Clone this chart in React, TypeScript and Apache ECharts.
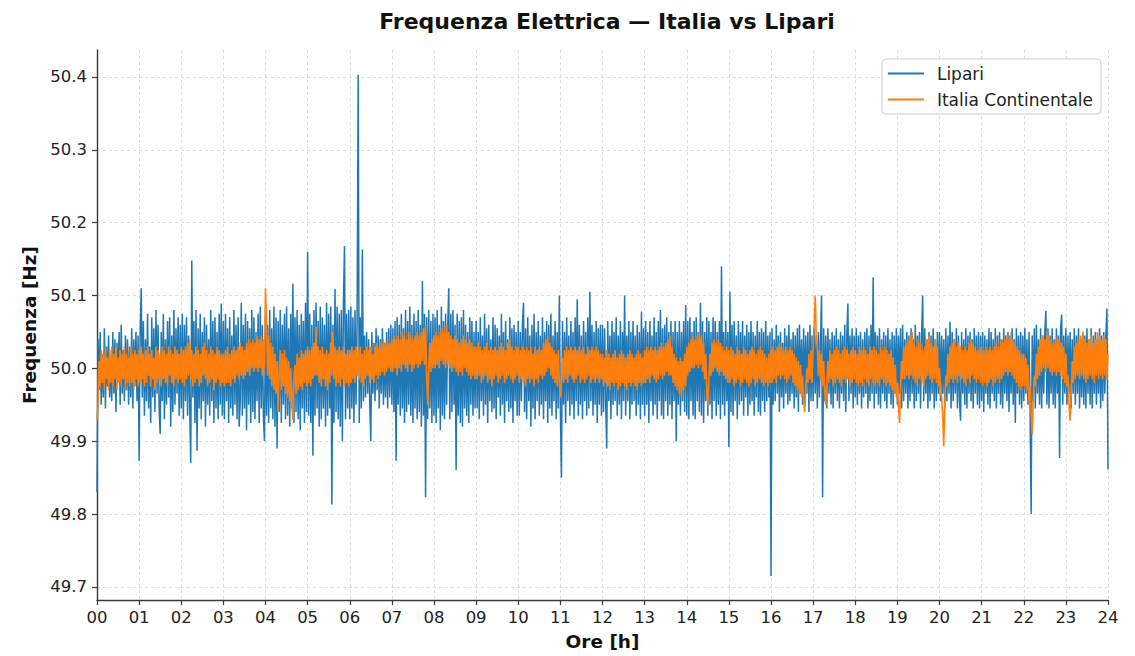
import React, { useEffect, useRef } from "react";
import * as echarts from "echarts";

// Grid-frequency samples over one day: 40 per hour (every 90 s) plus the 24:00 sample.
const DAY_HOURS = 24;

const hourLabels: string[] = Array.from({ length: 25 }, (_, h) => String(h).padStart(2, "0"));
const frequencyTicks: number[] = [49.7, 49.8, 49.9, 50.0, 50.1, 50.2, 50.3, 50.4];

// Lipari island grid [Hz], one row per hour
const lipari: number[] = [
  /* 00 */ 49.83, 50.04, 49.97, 50.05, 49.95, 50.02, 49.96, 50.055, 49.945, 50.03, 49.975, 50.045, 49.96, 50.01, 49.955, 50.05, 49.965, 50.04, 49.94, 50.035, 49.98, 50.05, 49.95, 50.06, 49.965, 50.025, 49.955, 50.045, 49.97, 50.04, 49.95, 50.03, 49.96, 50.055, 49.945, 50.04, 49.975, 50.05, 49.955, 50.045,
  /* 01 */ 49.873, 50.05, 50.11, 49.96, 50.065, 49.935, 50.04, 49.955, 50.075, 49.945, 50.03, 49.925, 50.07, 49.96, 50.055, 49.94, 50.08, 49.965, 50.06, 49.945, 49.91, 50.05, 49.955, 50.075, 49.93, 50.04, 49.95, 50.065, 49.96, 50.07, 49.92, 50.045, 49.94, 50.08, 49.95, 50.055, 49.965, 50.07, 49.935, 50.06,
  /* 02 */ 49.945, 50.075, 49.93, 50.06, 49.955, 50.07, 49.935, 50.045, 49.95, 49.87, 50.148, 49.96, 50.065, 49.925, 50.08, 49.887, 50.055, 49.945, 50.075, 49.93, 50.05, 49.955, 50.07, 49.92, 50.06, 49.95, 50.04, 49.935, 50.08, 49.955, 50.065, 49.925, 50.07, 49.945, 50.05, 49.93, 50.075, 49.95, 50.089, 49.935,
  /* 03 */ 50.065, 49.93, 50.075, 49.955, 50.055, 49.925, 50.07, 49.945, 50.045, 49.935, 50.08, 49.95, 50.06, 49.93, 50.07, 49.92, 49.955, 50.09, 49.935, 50.06, 49.945, 50.075, 49.915, 50.065, 49.95, 50.055, 49.925, 50.08, 49.94, 50.07, 49.93, 50.05, 49.955, 50.075, 49.925, 50.085, 49.945, 50.06, 49.935, 49.9,
  /* 04 */ 50.075, 49.935, 50.06, 49.925, 50.08, 49.945, 50.055, 49.93, 50.085, 49.92, 50.07, 49.89, 50.065, 49.94, 50.08, 49.925, 50.06, 49.95, 50.075, 49.93, 50.085, 49.935, 50.055, 49.92, 50.075, 49.945, 50.116, 49.925, 50.07, 49.94, 50.08, 49.93, 50.06, 49.915, 50.075, 49.945, 50.065, 49.925, 50.09, 49.94,
  /* 05 */ 50.16, 49.935, 50.075, 49.925, 50.06, 49.88, 50.08, 49.935, 50.09, 49.945, 50.065, 49.92, 50.085, 49.93, 50.07, 49.945, 50.06, 49.92, 50.09, 49.935, 50.075, 49.945, 50.085, 49.813, 50.06, 49.925, 50.109, 49.94, 50.085, 49.93, 50.075, 49.92, 50.08, 49.9, 50.09, 50.168, 49.93, 50.075, 49.945, 50.08,
  /* 06 */ 49.93, 50.085, 49.945, 50.07, 49.925, 50.08, 49.95, 50.065, 50.403, 49.925, 50.07, 49.945, 50.163, 49.955, 50.045, 49.96, 50.05, 49.965, 50.04, 49.95, 49.9, 50.05, 49.965, 50.035, 49.955, 50.055, 49.97, 50.045, 49.945, 50.04, 49.965, 50.055, 49.95, 50.035, 49.96, 50.05, 49.945, 50.055, 49.96, 50.06,
  /* 07 */ 49.95, 50.055, 49.94, 50.065, 49.873, 50.07, 49.95, 50.06, 49.935, 50.075, 49.945, 50.055, 49.925, 50.08, 49.94, 50.065, 49.95, 50.085, 49.935, 50.06, 49.925, 50.075, 49.945, 50.065, 49.93, 50.08, 49.94, 50.06, 49.92, 50.12, 49.935, 50.075, 49.823, 50.07, 49.93, 50.08, 49.945, 50.065, 49.925, 50.075,
  /* 08 */ 49.935, 50.07, 49.925, 50.08, 49.945, 50.06, 49.915, 50.085, 49.935, 50.065, 49.93, 50.075, 49.95, 50.055, 50.11, 49.93, 50.075, 49.94, 50.08, 49.95, 50.06, 49.86, 50.075, 49.935, 50.065, 49.925, 50.07, 49.92, 50.08, 49.945, 50.06, 49.935, 50.05, 49.925, 50.07, 49.95, 50.065, 49.935, 50.05, 49.945,
  /* 09 */ 50.065, 49.945, 50.05, 49.93, 50.07, 49.955, 50.045, 49.935, 50.075, 49.95, 50.055, 49.925, 50.06, 49.955, 50.04, 49.94, 50.07, 49.945, 50.06, 49.93, 50.055, 49.96, 50.045, 49.935, 50.075, 49.95, 50.05, 49.925, 50.065, 49.955, 50.04, 49.94, 50.07, 49.945, 50.055, 49.925, 50.06, 49.955, 50.05, 49.935,
  /* 10 */ 50.065, 49.935, 50.05, 49.955, 50.06, 50.09, 49.94, 50.055, 49.93, 50.07, 49.955, 50.045, 49.92, 50.06, 49.945, 50.075, 49.93, 50.05, 49.955, 50.065, 49.935, 50.045, 49.95, 50.07, 49.93, 50.05, 49.955, 50.065, 49.925, 50.06, 49.945, 50.075, 49.935, 50.045, 49.955, 50.065, 49.93, 50.05, 49.945, 50.1,
  /* 11 */ 49.94, 49.85, 50.065, 49.95, 50.05, 49.925, 50.07, 49.955, 50.045, 49.935, 50.065, 49.95, 50.05, 49.93, 50.07, 49.955, 50.095, 49.935, 50.06, 49.95, 50.045, 49.93, 50.065, 49.955, 50.05, 49.935, 50.07, 49.945, 50.105, 49.955, 50.06, 49.935, 50.05, 49.95, 50.065, 49.925, 50.055, 49.95, 50.06, 49.935,
  /* 12 */ 50.06, 49.94, 50.055, 49.955, 49.89, 50.065, 49.955, 50.045, 49.93, 50.065, 49.95, 50.05, 49.955, 50.07, 49.935, 50.045, 49.95, 50.065, 49.93, 50.05, 49.955, 50.1, 49.935, 50.045, 49.955, 50.065, 49.93, 50.05, 49.95, 50.065, 49.955, 50.045, 49.935, 50.06, 49.95, 50.05, 49.93, 50.078, 49.95, 50.055,
  /* 13 */ 49.935, 50.065, 49.95, 50.05, 49.925, 50.065, 49.955, 50.045, 49.935, 50.07, 49.95, 50.05, 49.93, 50.065, 49.955, 50.08, 49.935, 50.055, 49.93, 50.06, 49.955, 50.07, 49.935, 50.05, 49.95, 50.065, 49.93, 50.05, 49.955, 50.065, 49.9, 50.05, 49.95, 50.065, 49.935, 50.05, 49.955, 50.065, 49.94, 50.087,
  /* 14 */ 49.935, 50.065, 49.93, 50.07, 49.955, 50.05, 49.935, 50.065, 49.93, 50.07, 49.955, 50.05, 49.94, 50.09, 49.935, 50.065, 49.925, 50.05, 49.955, 50.07, 49.935, 50.065, 49.95, 50.05, 49.93, 50.07, 49.955, 50.065, 49.935, 50.05, 49.95, 50.065, 49.93, 50.14, 49.95, 50.05, 49.935, 50.065, 49.955, 50.05,
  /* 15 */ 49.892, 50.105, 49.94, 50.06, 49.935, 50.065, 49.955, 50.045, 49.93, 50.065, 49.95, 50.05, 49.955, 50.065, 49.935, 50.045, 49.96, 50.06, 49.935, 50.05, 49.95, 50.065, 49.955, 50.05, 49.935, 50.045, 49.96, 50.065, 49.94, 50.05, 49.935, 50.055, 49.955, 50.05, 49.94, 50.065, 49.955, 50.045, 49.96, 50.05,
  /* 16 */ 49.715, 50.055, 49.95, 50.04, 49.955, 50.06, 49.965, 50.045, 49.94, 50.05, 49.96, 50.035, 49.945, 50.055, 49.965, 50.045, 49.95, 50.06, 49.955, 50.04, 49.965, 50.05, 49.945, 50.045, 49.96, 50.055, 49.94, 50.06, 49.965, 50.04, 49.95, 50.055, 49.955, 50.045, 49.965, 50.05, 49.94, 50.06, 49.955, 50.045,
  /* 17 */ 49.955, 50.055, 49.965, 50.045, 49.945, 50.05, 49.96, 50.04, 50.1, 49.823, 50.055, 49.955, 50.045, 49.945, 50.055, 49.965, 50.04, 49.95, 50.05, 49.945, 50.045, 49.965, 50.055, 49.955, 50.04, 49.945, 50.05, 49.965, 50.045, 49.955, 50.06, 49.94, 50.045, 50.089, 49.955, 50.045, 49.965, 50.055, 49.945, 50.045,
  /* 18 */ 49.96, 50.055, 49.95, 50.045, 49.965, 50.05, 49.945, 50.04, 49.96, 50.05, 49.965, 50.055, 49.945, 50.045, 49.955, 50.06, 49.965, 50.125, 49.945, 50.05, 49.965, 50.045, 49.95, 50.055, 49.945, 50.04, 49.965, 50.05, 49.955, 50.045, 49.945, 50.055, 49.965, 50.04, 49.95, 50.05, 49.945, 50.045, 49.965, 50.055,
  /* 19 */ 49.95, 50.045, 49.965, 50.055, 49.945, 50.06, 49.955, 50.04, 49.965, 50.05, 49.945, 50.045, 49.955, 50.055, 49.965, 50.04, 49.945, 50.06, 49.955, 50.045, 49.965, 50.05, 49.945, 50.045, 50.1, 49.955, 50.055, 49.965, 50.04, 49.945, 50.05, 49.955, 50.045, 49.965, 50.055, 49.945, 50.04, 49.955, 50.05, 49.965,
  /* 20 */ 50.05, 49.955, 50.045, 49.965, 50.04, 49.945, 50.055, 49.955, 50.045, 49.965, 50.064, 49.945, 50.05, 49.955, 50.04, 49.965, 50.055, 49.945, 50.045, 49.955, 49.928, 50.05, 49.965, 50.04, 49.95, 50.055, 49.945, 50.045, 49.965, 50.05, 49.955, 50.04, 49.945, 50.055, 49.965, 50.045, 49.95, 50.05, 49.945, 50.045,
  /* 21 */ 49.955, 50.05, 49.94, 50.045, 49.965, 50.04, 49.95, 50.055, 49.945, 50.05, 49.965, 50.04, 49.955, 50.055, 49.945, 50.045, 49.965, 50.05, 49.95, 50.04, 49.945, 50.055, 49.965, 50.045, 49.955, 50.05, 49.94, 50.045, 49.965, 50.055, 49.95, 50.04, 49.925, 50.055, 49.965, 50.045, 49.95, 50.05, 49.945, 50.045,
  /* 22 */ 49.955, 50.055, 49.965, 50.04, 49.95, 50.05, 49.945, 49.8, 50.045, 49.955, 50.055, 49.945, 50.06, 49.965, 50.04, 49.95, 50.055, 49.945, 50.045, 49.965, 50.05, 50.079, 49.95, 50.055, 49.945, 50.045, 49.965, 50.055, 49.95, 50.04, 49.945, 50.055, 49.965, 50.045, 49.877, 50.055, 50.074, 49.95, 50.045, 49.965,
  /* 23 */ 50.055, 49.95, 50.045, 49.965, 50.05, 49.945, 50.04, 49.965, 50.055, 49.95, 50.045, 49.965, 50.055, 49.945, 50.04, 49.96, 50.05, 49.95, 50.045, 49.945, 50.055, 49.965, 50.04, 49.95, 50.055, 49.945, 50.045, 49.965, 50.05, 49.95, 50.04, 49.965, 50.055, 49.945, 50.045, 49.955, 50.05, 49.965, 50.045, 50.082,
  /* 24 */ 49.861,
];

// Continental Italy grid [Hz], one row per hour
const italia: number[] = [
  /* 00 */ 49.93, 49.95, 50.01, 49.975, 50.025, 49.98, 50.02, 49.97, 50.03, 49.985, 50.015, 49.97, 50.025, 49.98, 50.03, 49.975, 50.02, 49.985, 50.03, 49.97, 50.015, 49.98, 50.025, 49.975, 50.02, 49.985, 50.03, 49.97, 50.02, 49.98, 50.015, 49.975, 50.03, 49.98, 50.02, 49.97, 50.025, 49.985, 50.02, 49.975,
  /* 01 */ 50.025, 49.98, 50.03, 49.985, 50.02, 49.975, 50.025, 49.98, 50.03, 49.99, 50.02, 49.975, 50.025, 49.985, 50.015, 49.97, 50.03, 49.98, 50.025, 49.985, 50.02, 49.975, 50.03, 49.985, 50.025, 49.98, 50.02, 49.975, 50.03, 49.99, 50.025, 49.98, 50.02, 49.975, 50.03, 49.985, 50.025, 49.98, 50.02, 49.985,
  /* 02 */ 50.03, 49.98, 50.025, 49.975, 50.03, 49.985, 50.035, 49.99, 50.04, 49.985, 50.025, 49.975, 50.02, 49.98, 50.03, 49.985, 50.025, 49.975, 50.02, 49.98, 50.03, 49.99, 50.035, 49.985, 50.025, 49.975, 50.02, 49.98, 50.03, 49.985, 50.025, 49.97, 50.02, 49.98, 50.03, 49.985, 50.025, 49.975, 50.02, 49.98,
  /* 03 */ 50.02, 49.975, 50.025, 49.98, 50.03, 49.98, 50.02, 49.975, 50.025, 49.985, 50.03, 49.98, 50.025, 49.99, 50.03, 49.985, 50.035, 49.99, 50.03, 49.985, 50.025, 49.99, 50.035, 49.995, 50.04, 49.99, 50.035, 50.0, 50.04, 49.995, 50.035, 50.0, 50.045, 49.995, 50.04, 50.0, 50.045, 49.99, 50.04, 50.0,
  /* 04 */ 50.11, 50.06, 49.99, 50.045, 49.985, 50.035, 49.975, 50.03, 49.97, 50.02, 49.965, 50.01, 49.94, 49.995, 50.025, 49.97, 50.02, 49.975, 50.025, 49.965, 50.015, 49.96, 50.01, 49.955, 50.0, 49.95, 49.93, 49.985, 50.005, 49.965, 50.02, 49.97, 50.015, 49.975, 50.025, 49.97, 50.02, 49.98, 50.025, 49.975,
  /* 05 */ 50.03, 49.98, 50.025, 49.975, 50.03, 49.985, 50.035, 49.99, 50.057, 49.99, 50.03, 49.98, 50.025, 49.975, 50.03, 49.985, 50.02, 49.975, 50.025, 49.97, 50.02, 49.98, 50.035, 49.99, 50.05, 49.985, 50.03, 49.975, 50.025, 49.98, 50.03, 49.975, 50.025, 49.985, 50.03, 49.975, 50.02, 49.98, 50.025, 49.975,
  /* 06 */ 50.025, 49.98, 50.03, 49.985, 50.025, 49.98, 50.03, 49.99, 50.025, 49.985, 50.03, 49.98, 50.02, 49.975, 50.025, 49.985, 50.03, 49.99, 50.025, 49.98, 50.03, 49.985, 50.02, 49.98, 50.03, 49.99, 50.035, 49.985, 50.03, 49.99, 50.035, 49.995, 50.04, 49.99, 50.035, 49.995, 50.04, 50.0, 50.035, 49.995,
  /* 07 */ 50.04, 49.995, 50.045, 50.0, 50.04, 49.99, 50.045, 50.0, 50.04, 49.995, 50.05, 50.005, 50.045, 50.0, 50.04, 49.995, 50.05, 50.005, 50.045, 49.995, 50.04, 50.0, 50.045, 50.005, 50.05, 50.0, 50.045, 50.005, 50.05, 50.01, 50.055, 50.005, 50.06, 49.99, 49.95, 50.0, 50.035, 49.995, 50.04, 50.0,
  /* 08 */ 50.045, 50.0, 50.05, 50.005, 50.045, 50.0, 50.05, 50.01, 50.055, 50.005, 50.05, 50.0, 50.06, 50.005, 50.05, 50.0, 50.045, 49.995, 50.04, 50.0, 50.045, 49.995, 50.04, 49.99, 50.035, 49.995, 50.04, 49.99, 50.045, 50.0, 50.04, 49.995, 50.035, 49.99, 50.04, 49.985, 50.035, 49.99, 50.03, 49.985,
  /* 09 */ 50.03, 49.985, 50.035, 49.99, 50.03, 49.98, 50.025, 49.985, 50.03, 49.99, 50.035, 49.98, 50.025, 49.985, 50.03, 49.975, 50.025, 49.985, 50.03, 49.99, 50.025, 49.98, 50.03, 49.985, 50.035, 49.99, 50.03, 49.98, 50.025, 49.985, 50.035, 49.99, 50.04, 49.985, 50.03, 49.98, 50.025, 49.985, 50.03, 49.99,
  /* 10 */ 50.03, 49.98, 50.025, 49.985, 50.03, 49.98, 50.025, 49.975, 50.03, 49.985, 50.025, 49.98, 50.03, 49.985, 50.02, 49.975, 50.03, 49.985, 50.025, 49.98, 50.03, 49.99, 50.025, 49.985, 50.035, 49.99, 50.04, 49.995, 50.045, 50.0, 50.035, 49.99, 50.03, 49.985, 50.025, 49.98, 50.02, 49.975, 50.025, 49.98,
  /* 11 */ 49.96, 49.985, 50.015, 49.98, 50.025, 49.985, 50.03, 49.98, 50.025, 49.99, 50.03, 49.985, 50.025, 49.98, 50.03, 49.985, 50.025, 49.99, 50.03, 49.98, 50.025, 49.985, 50.03, 49.98, 50.02, 49.985, 50.03, 49.99, 50.025, 49.98, 50.03, 49.985, 50.025, 49.98, 50.03, 49.985, 50.025, 49.98, 50.02, 49.985,
  /* 12 */ 50.02, 49.975, 50.015, 49.98, 50.025, 49.975, 50.02, 49.97, 50.015, 49.98, 50.02, 49.975, 50.025, 49.98, 50.015, 49.97, 50.02, 49.975, 50.025, 49.98, 50.02, 49.975, 50.015, 49.97, 50.02, 49.98, 50.025, 49.975, 50.02, 49.98, 50.015, 49.975, 50.02, 49.97, 50.025, 49.98, 50.02, 49.975, 50.015, 49.98,
  /* 13 */ 50.025, 49.98, 50.03, 49.985, 50.025, 49.98, 50.03, 49.99, 50.025, 49.985, 50.03, 49.98, 50.025, 49.985, 50.03, 49.99, 50.035, 49.985, 50.03, 49.99, 50.035, 49.995, 50.04, 49.99, 50.045, 49.99, 50.03, 49.98, 50.02, 49.975, 50.015, 49.97, 50.01, 49.965, 50.015, 49.96, 50.01, 49.97, 50.02, 49.975,
  /* 14 */ 50.03, 49.99, 50.035, 49.995, 50.04, 50.0, 50.045, 50.0, 50.04, 50.005, 50.045, 50.0, 50.05, 50.005, 50.045, 49.995, 50.035, 49.985, 50.02, 49.97, 49.95, 49.985, 50.02, 49.99, 50.035, 49.995, 50.04, 50.0, 50.035, 49.995, 50.04, 49.99, 50.035, 49.995, 50.03, 49.99, 50.025, 49.985, 50.03, 49.98,
  /* 15 */ 50.025, 49.98, 50.03, 49.985, 50.025, 49.975, 50.02, 49.98, 50.03, 49.985, 50.025, 49.975, 50.02, 49.98, 50.03, 49.985, 50.025, 49.98, 50.02, 49.975, 50.025, 49.98, 50.03, 49.985, 50.025, 49.975, 50.02, 49.98, 50.025, 49.985, 50.03, 49.98, 50.025, 49.975, 50.02, 49.98, 50.015, 49.975, 50.02, 49.98,
  /* 16 */ 50.025, 49.98, 50.03, 49.985, 50.025, 49.98, 50.03, 49.99, 50.035, 49.985, 50.03, 49.99, 50.025, 49.985, 50.03, 49.98, 50.025, 49.985, 50.03, 49.99, 50.025, 49.98, 50.02, 49.975, 50.015, 49.97, 50.01, 49.965, 50.005, 49.96, 49.99, 49.955, 49.94, 49.97, 50.0, 49.98, 50.02, 49.985, 50.025, 49.98,
  /* 17 */ 50.03, 50.06, 50.1, 50.04, 50.03, 49.99, 50.025, 49.985, 50.02, 49.975, 50.01, 49.965, 49.95, 49.98, 50.01, 49.98, 50.025, 49.985, 50.02, 49.975, 50.025, 49.98, 50.03, 49.985, 50.025, 49.98, 50.02, 49.975, 50.025, 49.985, 50.03, 49.98, 50.025, 49.985, 50.02, 49.975, 50.025, 49.98, 50.03, 49.985,
  /* 18 */ 50.025, 49.98, 50.02, 49.975, 50.03, 49.98, 50.025, 49.975, 50.03, 49.985, 50.025, 49.98, 50.02, 49.975, 50.03, 49.985, 50.025, 49.98, 50.03, 49.975, 50.025, 49.98, 50.02, 49.975, 50.03, 49.985, 50.025, 49.98, 50.03, 49.975, 50.025, 49.98, 50.02, 49.975, 50.025, 49.97, 50.015, 49.965, 50.005, 49.96,
  /* 19 */ 49.98, 49.95, 49.925, 49.975, 50.01, 49.985, 50.03, 49.985, 50.035, 49.99, 50.04, 49.985, 50.045, 49.99, 50.05, 49.985, 50.035, 49.98, 50.03, 49.975, 50.04, 49.985, 50.035, 49.98, 50.025, 49.975, 50.03, 49.985, 50.04, 49.99, 50.045, 49.985, 50.035, 49.98, 50.03, 49.985, 50.04, 49.98, 50.03, 49.975,
  /* 20 */ 50.0, 49.97, 49.96, 49.935, 49.893, 49.95, 49.99, 49.975, 50.02, 49.98, 50.03, 49.985, 50.035, 49.98, 50.04, 49.985, 50.03, 49.98, 50.035, 49.99, 50.03, 49.985, 50.025, 49.98, 50.03, 49.975, 50.025, 49.985, 50.035, 49.98, 50.04, 49.99, 50.035, 49.985, 50.03, 49.98, 50.025, 49.985, 50.03, 49.98,
  /* 21 */ 50.03, 49.975, 50.025, 49.98, 50.03, 49.975, 50.025, 49.98, 50.03, 49.985, 50.025, 49.975, 50.03, 49.98, 50.035, 49.985, 50.03, 49.98, 50.04, 49.985, 50.035, 49.99, 50.04, 49.995, 50.045, 49.99, 50.04, 49.995, 50.05, 49.99, 50.04, 49.985, 50.035, 49.98, 50.03, 49.975, 50.025, 49.97, 50.02, 49.975,
  /* 22 */ 50.02, 49.975, 50.015, 49.97, 50.005, 49.955, 49.975, 49.94, 49.909, 49.96, 49.99, 49.975, 50.02, 49.985, 50.03, 49.99, 50.04, 49.995, 50.045, 50.0, 50.04, 49.995, 50.05, 50.0, 50.045, 49.995, 50.04, 49.99, 50.035, 49.995, 50.04, 49.99, 50.045, 49.995, 50.04, 49.99, 50.035, 49.985, 50.03, 49.98,
  /* 23 */ 50.02, 49.975, 49.99, 49.95, 49.928, 49.965, 50.01, 49.98, 50.03, 49.985, 50.035, 49.99, 50.04, 49.985, 50.045, 49.99, 50.05, 49.985, 50.04, 49.98, 50.035, 49.985, 50.04, 49.99, 50.045, 49.985, 50.035, 49.98, 50.04, 49.99, 50.05, 49.985, 50.045, 49.99, 50.04, 49.985, 50.045, 49.99, 50.04, 49.985,
  /* 24 */ 50.02,
];

const FONT = "DejaVu Sans";
const TEXT = "#222222";
const AXIS = "#3a3a3a";
const BLUE = "#1f77b4";
const ORANGE = "#ff7f0e";

// Evenly spaced samples from 00:00 to 24:00
const toPoints = (values: number[]) =>
  values.map((v, i) => [(i * DAY_HOURS) / (values.length - 1), v]);

export default function App() {
  const ref = useRef<HTMLDivElement>(null);

  useEffect(() => {
    if (!ref.current) return;
    const chart = echarts.init(ref.current, null, { renderer: "svg" });
    chart.setOption({
      animation: false,
      backgroundColor: "#ffffff",
      textStyle: { fontFamily: FONT },
      title: {
        text: "Frequenza Elettrica \u2014 Italia vs Lipari",
        left: 602,
        top: 5,
        textAlign: "center",
        textStyle: { fontFamily: FONT, fontSize: 22, fontWeight: "bold", color: "#111" },
      },
      legend: {
        orient: "vertical",
        right: 34,
        top: 59,
        padding: [6, 8, 6, 6],
        itemGap: 9,
        itemWidth: 36,
        itemHeight: 2,
        icon: "rect",
        backgroundColor: "rgba(255,255,255,0.9)",
        borderColor: "#cccccc",
        borderWidth: 1,
        borderRadius: 4,
        textStyle: { fontFamily: FONT, fontSize: 17, color: TEXT, padding: [0, 0, 0, 8] },
        data: ["Lipari", "Italia Continentale"],
      },
      grid: { left: 97, right: 27, top: 50, bottom: 53, containLabel: false },
      xAxis: {
        type: "value",
        min: 0,
        max: 24,
        interval: 1,
        name: "Ore [h]",
        nameLocation: "middle",
        nameGap: 32,
        nameTextStyle: { fontFamily: FONT, fontSize: 18.5, fontWeight: "bold", color: "#111" },
        axisLine: { show: true, lineStyle: { color: AXIS, width: 1.4 } },
        axisTick: { show: true, inside: false, length: 5, lineStyle: { color: AXIS, width: 1.2 } },
        axisLabel: {
          fontFamily: FONT,
          fontSize: 16.5,
          color: TEXT,
          margin: 9,
          formatter: (v: number) => hourLabels[Math.round(v)] ?? "",
        },
        splitLine: { show: true, lineStyle: { color: "#d4d4d4", type: [3, 3], width: 0.8 } },
      },
      yAxis: {
        type: "value",
        min: 49.682,
        max: 50.437,
        name: "Frequenza [Hz]",
        nameLocation: "middle",
        nameGap: 58,
        nameRotate: 90,
        nameTextStyle: { fontFamily: FONT, fontSize: 18.5, fontWeight: "bold", color: "#111" },
        axisLine: { show: true, lineStyle: { color: AXIS, width: 1.4 } },
        axisTick: {
          show: true,
          inside: false,
          length: 5,
          lineStyle: { color: AXIS, width: 1.2 },
          customValues: frequencyTicks,
        },
        axisLabel: {
          fontFamily: FONT,
          fontSize: 16.5,
          color: TEXT,
          margin: 10,
          customValues: frequencyTicks,
          formatter: (v: number) => v.toFixed(1),
        },
        splitLine: { show: true, lineStyle: { color: "#d4d4d4", type: [3, 3], width: 0.8 } },
      },
      series: [
        {
          name: "Lipari",
          type: "line",
          data: toPoints(lipari),
          symbol: "none",
          color: BLUE,
          lineStyle: { color: BLUE, width: 1.5 },
          z: 2,
        },
        {
          name: "Italia Continentale",
          type: "line",
          data: toPoints(italia),
          symbol: "none",
          color: ORANGE,
          lineStyle: { color: ORANGE, width: 1.6 },
          z: 3,
        },
      ],
    });
    return () => chart.dispose();
  }, []);

  return (
    <div
      ref={ref}
      style={{ position: "fixed", left: 0, top: 0, width: 1135, height: 656, background: "#fff" }}
    />
  );
}
